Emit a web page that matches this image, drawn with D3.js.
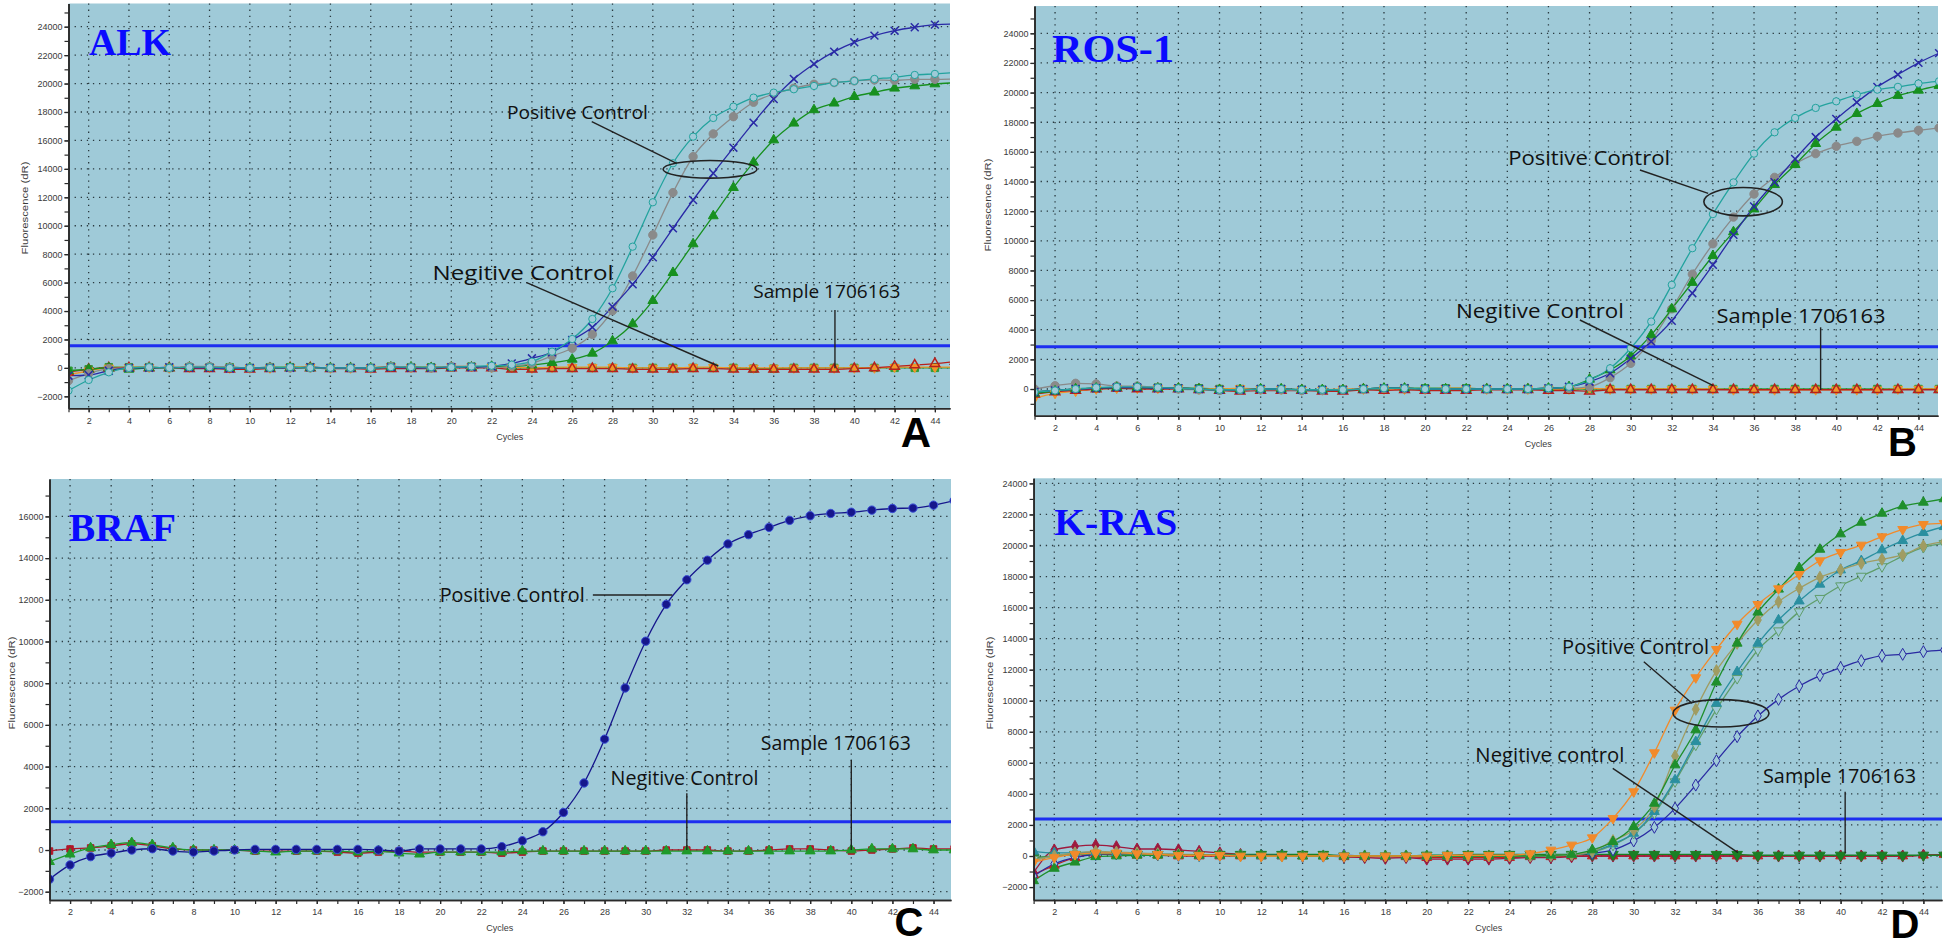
<!DOCTYPE html>
<html><head><meta charset="utf-8">
<script src="https://cdn.jsdelivr.net/npm/d3@7"></script>
<style>body{margin:0;background:#fff;} svg{display:block;font-family:"Liberation Sans",Arial,sans-serif;}</style>
</head><body>
<svg id="chart" width="1946" height="947"></svg>
<script>
// ---------------- DATA ----------------
const cycles = d3.range(1, 46);
const xTickLabels = d3.range(2, 45, 2);

// Panel A - ALK
const alkTeal   = [-1600,-850,-310,0,50,0,50,50,0,0, 0,50,0,0,0,0,50,50,50,50, 100,150,225,440,1140,2033,3440,5600,8527,11650, 14393,16265,17580,18375,19010,19360,19600,19830,20065,20185, 20325,20440,20605,20680,20770];
const alkGray   = [-900,-400,-50,0,50,0,100,100,50,0, 50,0,0,0,0,0,100,50,0,100, 100,0,130,320,840,1380,2360,4025,6465,9350, 12330,14860,16460,17670,18685,19270,19670,19950,20070,20185, 20255,20230,20300,20300,20320];
const alkNavy   = [-550,-500,-200,0,0,50,0,0,-50,0, 0,0,50,0,0,0,50,0,0,50, 50,100,320,675,1100,1960,2855,4305,5880,7780, 9820,11810,13690,15490,17250,18915,20325,21380,22245,22900, 23370,23720,23960,24145,24190];
const alkGreen  = [-200,-100,0,-100,0,0,50,50,0,0, 0,0,0,0,0,0,50,50,0,50, 50,100,100,200,365,600,1025,1890,3090,4730, 6700,8720,10690,12680,14460,16030,17210,18150,18620,19080, 19390,19670,19830,19970,20060];
const alkNegRed = [-300,-100,0,0,0,0,-50,-50,-100,-100, -50,0,0,-50,-50,-100,-50,-50,-50,0, 0,0,-100,-100,-50,-50,-50,-50,-100,-100, -100,-50,-50,-100,-100,-100,-100,-100,-100,-50, 0,100,200,300,450];
const alkOrange = [-500,-200,0,50,50,0,50,50,0,0, 0,50,50,0,0,0,100,50,50,100, 100,50,50,0,50,50,50,50,0,0, 0,50,50,0,0,0,0,0,0,0, 0,50,50,50,50];
const alkSample = [-200,-100,50,50,50,0,50,50,50,0, 50,50,50,0,0,0,100,50,50,50, 100,50,0,0,0,0,0,0,0,0, 0,0,0,0,-50,-50,0,0,0,0, 0,0,0,0,0];
const alkThreshold = 1560;

// Panel B - ROS-1
const rosTeal   = [-200,-100,0,100,150,150,100,50,0,-50, -50,0,0,-50,-50,-50,0,50,50,0, 0,0,0,0,0,50,150,610,1400,2750, 4550,7030,9500,11800,13940,15880,17320,18290,18965,19410, 19865,20200,20385,20610,20765];
const rosGray   = [0,220,385,340,200,200,100,0,-50,-100, -50,-50,-50,-100,-100,-50,0,50,50,0, 0,0,0,0,0,50,50,155,765,1735, 3265,5405,7750,9800,11600,13155,14280,15200,15880,16375, 16710,17050,17275,17455,17615];
const rosNavy   = [-200,-100,0,50,100,100,50,50,0,-50, -50,0,0,-50,-50,-50,0,50,50,0, 0,0,0,0,0,50,150,495,1060,2050, 3200,4595,6465,8380,10400,12320,13950,15520,17000,18220, 19345,20385,21215,22005,22660];
const rosGreen  = [-300,-150,0,50,100,100,50,50,0,-50, -50,0,0,-50,-50,-50,0,50,50,0, 0,0,0,0,0,50,150,655,1285,2230, 3650,5400,7185,8990,10600,12140,13785,15135,16555,17655, 18580,19255,19800,20155,20475];
const rosNegRed = [-350,-200,-100,0,50,0,0,0,-50,-100, -150,-100,-100,-100,-150,-150,-50,-100,-50,-100, -100,-100,-50,-50,-50,-100,-100,-150,-50,-50, -50,-50,-50,-50,-50,-50,-50,-50,-50,-50, -50,-50,-50,-50,-50];
const rosOrange = [-630,-300,-150,0,50,50,50,50,0,0, 50,0,0,-50,-50,0,0,0,0,0, 50,50,0,0,0,0,0,50,0,0, 0,0,0,0,-50,-50,-50,-50,-50,-50, -50,-50,0,0,0];
const rosSample = [-200,-100,0,50,100,100,100,50,50,0, 0,0,0,-50,-50,-50,0,50,50,50, 50,50,0,0,0,0,0,0,0,0, 0,0,0,0,0,0,0,0,0,0, 0,0,0,0,0];
const rosThreshold = 2855;

// Panel C - BRAF
const brafPos    = [-1400,-716,-320,-150,0,60,-50,-100,-50,0, 30,30,30,30,30,30,0,-50,50,50, 50,50,160,445,875,1800,3215,5317,7770,10014, 11780,12960,13900,14680,15124,15475,15810,16030,16140,16200, 16300,16380,16400,16540,16760];
const brafNeg    = [-50,50,100,200,300,200,50,0,0,0, -50,-50,-50,-50,-100,-150,-100,-50,-100,-100, -100,-100,-150,-100,-50,-50,-50,-50,-50,-50, 0,0,0,-50,-50,0,50,50,0,-50, 0,50,100,50,50];
const brafSample = [-560,-200,100,250,350,250,100,0,0,0, -50,-100,-50,-50,-50,-100,-50,-150,-200,-100, -100,-100,-100,-50,-50,-50,-50,-50,-50,-50, -50,-50,-50,-50,-50,-50,-50,-50,-50,0, 50,50,50,0,0];
const brafThreshold = 1357;

// Panel D - K-RAS
const krasOrange = [-400,-100,100,200,200,150,100,50,50,50, 0,0,0,0,0,0,0,0,0,0, 50,50,50,50,150,386,710,1180,2426,4144, 6656,9400,11490,13310,14940,16210,17220,18140,19020,19560, 20030,20570,21040,21360,21430];
const krasGreen  = [-1600,-800,-400,-50,0,50,50,50,50,50, 50,50,50,0,0,0,0,0,0,0, 0,0,0,0,0,50,100,390,920,1890, 3390,5860,8115,11190,13700,15700,17180,18570,19750,20740, 21490,22070,22540,22780,23000];
const krasOlive  = [-300,0,200,300,250,200,150,100,100,50, 50,0,0,0,0,0,0,0,0,0, 0,0,0,0,0,50,100,300,990,1670, 3180,6440,9450,11940,13700,15200,16380,17240,17950,18420, 18850,19110,19390,19970,20250];
const krasTeal   = [300,200,200,250,200,150,100,100,50,50, 50,0,0,0,0,0,0,0,0,0, 0,0,0,0,0,50,100,300,770,1460, 2860,4900,7360,9830,11870,13700,15200,16420,17500,18420, 19020,19710,20310,20830,21210];
const krasLGreen = [-200,0,100,150,150,100,100,50,50,50, 0,0,0,0,0,0,0,0,0,0, 0,0,0,0,0,0,50,250,700,1460, 2750,4790,7150,9450,11440,13270,14510,15740,16600,17410, 18030,18640,19320,19880,20140];
const krasNavy   = [-1300,-500,-100,100,150,100,100,50,50,50, 50,50,50,0,0,50,0,0,0,0, 0,0,0,0,0,50,100,170,390,970, 1850,3070,4570,6140,7690,9020,10090,10950,11620,12130, 12580,12900,12990,13160,13270];
const krasMaroon = [-1070,390,620,700,600,450,450,400,300,200, 100,50,50,0,0,-50,-100,-150,-100,-200, -200,-200,-200,-150,-100,-100,-50,0,0,0, 0,0,0,0,0,0,0,0,0,0, 0,0,0,50,100];
const krasNegRed = [-1200,-600,-100,100,100,50,50,0,0,0, 0,0,0,0,0,-50,-50,-50,-50,-100, -100,-100,-100,-100,-50,-50,0,0,0,0, 0,0,0,0,0,0,0,0,0,0, 0,0,0,50,100];
const krasSample = [-100,0,100,150,150,100,100,100,50,100, 100,100,100,100,100,0,0,0,0,50, 50,100,100,100,100,100,100,100,100,100, 100,100,100,100,100,50,50,50,50,50, 50,50,50,50,50];
const krasThreshold = 2383;

// ---------------- STYLE / LAYOUT ----------------
const BG = "#9fcad8";
const panels = [
  { title:"ALK", titleW:82, titleFs:37, tdx:20.5, tdy:51.5, letter:"A", letterX:916, letterY:446.7, letterFs:42,
    x0:68.5, x1:950, y0:3.5, y1:408.3, xMax:44.75, yMin:-2842, yMax:25631,
    yTicks:d3.range(-2000, 24001, 2000), threshold:alkThreshold, cyclesAt:22.9, ylabY:208, ylabX:25,
    series:[
      {v:alkSample, c:"#2f9a35", s:"square", size:55},
      {v:alkOrange, c:"#f0952a", s:"itri", size:38},
      {v:alkNegRed, c:"#b8201c", s:"otri", size:40},
      {v:alkGreen, c:"#17901f", s:"tri"},
      {v:alkGray, c:"#8a8a8a", s:"circle", size:55},
      {v:alkNavy, c:"#2a2aa6", s:"x"},
      {v:alkTeal, c:"#23a39e", s:"ocircle"}
    ],
    ann:[
      {t:"Positive Control", c:22.76, v:17486, w:141, fs:18, lines:[[[26.97,17317],[31.18,14391]]], ell:{c:32.84, v:13969, rc:2.33, rv:619}},
      {t:"Negitive Control", c:19.07, v:6183, w:181, fs:20, lines:[[[23.74,5993],[33.25,134]]]},
      {t:"Sample 1706163", c:34.99, v:4896, w:147, fs:19, lines:[[[39.04,4073],[39.04,-28]]]}
    ]},
  { title:"ROS-1", titleW:122, titleFs:40, tdx:17.5, tdy:56, letter:"B", letterX:1902.5, letterY:456, letterFs:40,
    x0:1034.5, x1:1938, y0:6, y1:415.7, xMax:44.95, yMin:-1801, yMax:25842,
    yTicks:d3.range(0, 24001, 2000), threshold:rosThreshold, cyclesAt:25.5, ylabY:205, ylabX:988,
    series:[
      {v:rosSample, c:"#2f9a35", s:"square", size:55},
      {v:rosOrange, c:"#f0952a", s:"itri", size:38},
      {v:rosNegRed, c:"#b8201c", s:"otri", size:40},
      {v:rosGray, c:"#8a8a8a", s:"circle", size:55},
      {v:rosGreen, c:"#17901f", s:"tri"},
      {v:rosNavy, c:"#2a2aa6", s:"x"},
      {v:rosTeal, c:"#23a39e", s:"ocircle"}
    ],
    ann:[
      {t:"Positive Control", c:24.04, v:15114, w:162, fs:20, lines:[[[30.45,14776],[33.77,13204]]], ell:{c:35.47, v:12638, rc:1.91, rv:958}},
      {t:"Negitive Control", c:21.50, v:4770, w:168, fs:20, lines:[[[27.53,4656],[34.02,223]]]},
      {t:"Sample 1706163", c:34.18, v:4473, w:169, fs:20, lines:[[[39.24,4163],[39.24,-67]]]}
    ]},
  { title:"BRAF", titleW:107, titleFs:40, tdx:19.5, tdy:61.7, letter:"C", letterX:909, letterY:936, letterFs:40,
    x0:49.5, x1:951, y0:479, y1:900, xMax:44.85, yMin:-2398, yMax:17794,
    yTicks:d3.range(-2000, 16001, 2000), threshold:brafThreshold, cyclesAt:22.9, ylabY:683, ylabX:12,
    series:[
      {v:brafNeg, c:"#b0182a", s:"square"},
      {v:brafSample, c:"#1f9a2a", s:"tri"},
      {v:brafPos, c:"#16168c", s:"circle", size:55, stroke:"#3b4fd8"}
    ],
    ann:[
      {t:"Positive Control", c:19.98, v:11909, w:145, fs:20, lines:[[[27.43,12230],[31.30,12230]]]},
      {t:"Negitive Control", c:28.29, v:3118, w:148, fs:20, lines:[[[32,2719],[32,0]]]},
      {t:"Sample 1706163", c:35.6, v:4796, w:150, fs:20, lines:[[[40,4317],[40,0]]]}
    ]},
  { title:"K-RAS", titleW:123, titleFs:38, tdx:20.7, tdy:56.7, letter:"D", letterX:1905, letterY:938, letterFs:40,
    x0:1033.6, x1:1942, y0:478.3, y1:900, xMax:44.9, yMin:-2834, yMax:24328,
    yTicks:d3.range(-2000, 24001, 2000), threshold:krasThreshold, cyclesAt:23, ylabY:683, ylabX:990.5,
    series:[
      {v:krasNegRed, c:"#c0201c", s:"tri"},
      {v:krasMaroon, c:"#9e1a3e", s:"diamond"},
      {v:krasSample, c:"#1a7f24", s:"itri", size:48},
      {v:krasNavy, c:"#2a2aa2", s:"odiamond"},
      {v:krasLGreen, c:"#5f9d6a", s:"oitri"},
      {v:krasTeal, c:"#2a8fa0", s:"tri"},
      {v:krasOlive, c:"#a09c62", s:"diamond"},
      {v:krasGreen, c:"#1f8f2c", s:"tri"},
      {v:krasOrange, c:"#f28a2a", s:"itri"}
    ],
    ann:[
      {t:"Positive Control", c:26.54, v:13011, w:147, fs:20, lines:[[[30.49,12515],[32.82,9836]]], ell:{c:34.22, v:9192, rc:2.32, rv:882}},
      {t:"Negitive control", c:22.35, v:6074, w:149, fs:20, lines:[[[28.99,5649],[35.04,213]]]},
      {t:"Sample 1706163", c:36.25, v:4683, w:153, fs:20, lines:[[[40.22,4142],[40.22,174]]]}
    ]}
];

const svg = d3.select("#chart");
const defs = svg.append("defs");

function symbolPath(kind, size) {
  const map = {circle:d3.symbolCircle, ocircle:d3.symbolCircle, tri:d3.symbolTriangle, otri:d3.symbolTriangle, itri:d3.symbolTriangle,
    oitri:d3.symbolTriangle, x:d3.symbolTimes, diamond:d3.symbolDiamond, odiamond:d3.symbolDiamond, square:d3.symbolSquare};
  return d3.symbol().type(map[kind]).size(size)();
}

panels.forEach((p, i) => {
  const x = d3.scaleLinear().domain([1, p.xMax]).range([p.x0, p.x1]);
  const y = d3.scaleLinear().domain([p.yMin, p.yMax]).range([p.y1, p.y0]);
  const g = svg.append("g");

  g.append("rect").attr("x", p.x0).attr("y", p.y0).attr("width", p.x1 - p.x0).attr("height", p.y1 - p.y0).attr("fill", BG);

  // grid
  const grid = g.append("g").attr("stroke", "#2a3a40").attr("stroke-width", 1.3).attr("stroke-dasharray", "1.3,4.8");
  grid.selectAll(".vg").data(xTickLabels).join("line")
    .attr("x1", d => x(d)).attr("x2", d => x(d)).attr("y1", p.y0).attr("y2", p.y1);
  grid.selectAll(".hg").data(p.yTicks).join("line")
    .attr("x1", p.x0).attr("x2", p.x1).attr("y1", d => y(d)).attr("y2", d => y(d));

  // threshold
  g.append("line").attr("x1", p.x0).attr("x2", p.x1).attr("y1", y(p.threshold)).attr("y2", y(p.threshold))
    .attr("stroke", "#1c2ef0").attr("stroke-width", 3);

  // clip
  const cid = "clip" + i;
  defs.append("clipPath").attr("id", cid).append("rect")
    .attr("x", p.x0).attr("y", p.y0).attr("width", p.x1 - p.x0).attr("height", p.y1 - p.y0);
  const plot = g.append("g").attr("clip-path", `url(#${cid})`);

  const line = d3.line().x((d, k) => x(cycles[k])).y(d => y(d)).curve(d3.curveMonotoneX);
  p.series.forEach(s => {
    plot.append("path").attr("d", line(s.v)).attr("fill", "none").attr("stroke", s.c).attr("stroke-width", 1.3);
  });
  p.series.forEach(s => {
    const size = s.size || 42;
    const open = s.s.startsWith("o") || s.s === "x";
    const rot = (s.s === "itri" || s.s === "oitri") ? " rotate(180)" : "";
    plot.append("g").selectAll("path").data(s.v).join("path")
      .attr("d", symbolPath(s.s, size))
      .attr("transform", (d, k) => `translate(${x(cycles[k])},${y(d)})${rot}`)
      .attr("fill", open ? (s.s === "x" || s.s === "otri" ? "none" : BG) : s.c)
      .attr("stroke", s.stroke || s.c)
      .attr("stroke-width", (s.s === "x" || s.s === "otri") ? 1.5 : 1);
  });

  // axes
  const ax = g.append("g").attr("class", "axis");
  const yAxis = d3.axisLeft(y).tickValues(p.yTicks).tickSize(4).tickPadding(2).tickSizeOuter(0).tickFormat(d3.format("d"));
  const yMinor = d3.axisLeft(y).tickValues(d3.range(Math.ceil(p.yMin / 1000) * 1000, p.yMax, 1000)).tickSize(4).tickSizeOuter(0).tickFormat("");
  ax.append("g").attr("transform", `translate(${p.x0},0)`).call(yMinor);
  ax.append("g").attr("transform", `translate(${p.x0},0)`).call(yAxis);
  const xMinor = d3.axisBottom(x).tickValues(cycles.filter(c => c <= p.xMax)).tickSize(4).tickSizeOuter(0).tickFormat("");
  const xAxis = d3.axisBottom(x).tickValues(xTickLabels).tickSize(4).tickPadding(5).tickSizeOuter(0);
  ax.append("g").attr("transform", `translate(0,${p.y1})`).call(xMinor);
  ax.append("g").attr("transform", `translate(0,${p.y1})`).call(xAxis);
  ax.selectAll("path.domain").attr("stroke", "#2a2a2a").attr("stroke-width", 1.6);
  ax.selectAll(".tick line").attr("stroke", "#2a2a2a").attr("stroke-width", 1.2);
  ax.selectAll(".tick text").attr("font-size", 9).attr("fill", "#3a3a3a").attr("font-family", "Liberation Sans, Arial, sans-serif");

  // axis titles
  g.append("text").attr("x", x(p.cyclesAt)).attr("y", p.y1 + 29).attr("text-anchor", "middle")
    .attr("dominant-baseline", "middle").attr("font-size", 9).attr("fill", "#3a3a3a").text("Cycles");
  g.append("text").attr("transform", `translate(${p.ylabX},${p.ylabY}) rotate(-90)`).attr("text-anchor", "middle")
    .attr("dominant-baseline", "middle").attr("font-size", 9.5).attr("fill", "#3a3a3a")
    .attr("textLength", 93).attr("lengthAdjust", "spacingAndGlyphs").text("Fluorescence (dR)");

  // title
  g.append("text").attr("x", p.x0 + p.tdx).attr("y", p.y0 + p.tdy)
    .attr("font-family", "Liberation Serif, Times New Roman, serif").attr("font-weight", "bold")
    .attr("font-size", p.titleFs).attr("fill", "#0a0aff")
    .attr("textLength", p.titleW).attr("lengthAdjust", "spacingAndGlyphs").text(p.title);

  // annotations
  p.ann.forEach(a => {
    g.append("text").attr("x", x(a.c)).attr("y", y(a.v))
      .attr("font-family", "Open Sans, Noto Sans, sans-serif").attr("font-size", a.fs).attr("fill", "#111")
      .attr("textLength", a.w).attr("lengthAdjust", "spacingAndGlyphs").text(a.t);
    a.lines.forEach(l => {
      g.append("line").attr("x1", x(l[0][0])).attr("y1", y(l[0][1])).attr("x2", x(l[1][0])).attr("y2", y(l[1][1]))
        .attr("stroke", "#222").attr("stroke-width", 1.4);
    });
    if (a.ell) {
      g.append("ellipse").attr("cx", x(a.ell.c)).attr("cy", y(a.ell.v))
        .attr("rx", x(a.ell.c + a.ell.rc) - x(a.ell.c)).attr("ry", y(a.ell.v - a.ell.rv) - y(a.ell.v))
        .attr("fill", "none").attr("stroke", "#222").attr("stroke-width", 1.6);
    }
  });

  // panel letter
  g.append("text").attr("x", p.letterX).attr("y", p.letterY).attr("text-anchor", "middle")
    .attr("font-family", "Liberation Sans, Arial, sans-serif").attr("font-weight", "bold").attr("font-size", p.letterFs)
    .attr("fill", "#000").text(p.letter);
});
</script>
</body></html>
